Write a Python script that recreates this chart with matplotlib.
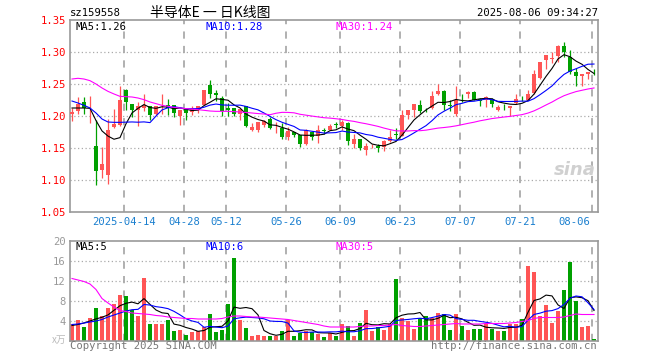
import matplotlib
matplotlib.use('Agg')
import matplotlib.pyplot as plt
from matplotlib.transforms import blended_transform_factory

# daily K data, 2025-03-31 .. 2025-08-06 (88 sessions)
opens = [1.2026, 1.2073, 1.2214, 1.2125, 1.1536, 1.1151, 1.1083, 1.1823, 1.1865, 1.2411,
         1.2188, 1.2099, 1.2125, 1.2161, 1.2036, 1.2214, 1.2177, 1.2167, 1.1995, 1.2109,
         1.2063, 1.2099, 1.2177, 1.2479, 1.2359, 1.2276, 1.2125, 1.2125, 1.2036, 1.2151,
         1.1776, 1.1786, 1.1865, 1.1958, 1.1808, 1.1813, 1.1667, 1.1745, 1.1708, 1.1568,
         1.1745, 1.1682, 1.1776, 1.1786, 1.1880, 1.1849, 1.1891, 1.1568, 1.1646, 1.1464,
         1.1526, 1.1536, 1.1516, 1.1615, 1.1724, 1.1693, 1.2021, 1.2099, 1.2177, 1.2099,
         1.2125, 1.2349, 1.2396, 1.2177, 1.2036, 1.2234, 1.2344, 1.2370, 1.2271, 1.2255,
         1.2271, 1.2099, 1.2156, 1.2125, 1.2203, 1.2286, 1.2255, 1.2359, 1.2594, 1.2870,
         1.2896, 1.2932, 1.3089, 1.2917, 1.2682, 1.2630, 1.2656, 1.2693]
highs = [1.2125, 1.2292, 1.2292, 1.2318, 1.1943, 1.1516, 1.1953, 1.2109, 1.2474, 1.2427,
         1.2188, 1.2214, 1.2344, 1.2161, 1.2151, 1.2349, 1.2266, 1.2167, 1.2089, 1.2109,
         1.2151, 1.2151, 1.2401, 1.2568, 1.2411, 1.2307, 1.2203, 1.2125, 1.2109, 1.2151,
         1.1891, 1.1901, 1.1943, 1.1984, 1.1901, 1.1891, 1.1828, 1.1745, 1.1708, 1.1797,
         1.1745, 1.1865, 1.1813, 1.1880, 1.1901, 1.1943, 1.1901, 1.1724, 1.1646, 1.1578,
         1.1557, 1.1557, 1.1630, 1.1776, 1.1813, 1.2089, 1.2099, 1.2193, 1.2245, 1.2125,
         1.2385, 1.2505, 1.2411, 1.2255, 1.2474, 1.2349, 1.2396, 1.2396, 1.2281, 1.2307,
         1.2281, 1.2177, 1.2193, 1.2151, 1.2349, 1.2307, 1.2411, 1.2724, 1.2844, 1.2958,
         1.3000, 1.3115, 1.3156, 1.3036, 1.2750, 1.2656, 1.2682, 1.2740]
lows = [1.1917, 1.2036, 1.2036, 1.1891, 1.0927, 1.1031, 1.0943, 1.1813, 1.1849, 1.2099,
        1.1984, 1.1849, 1.2073, 1.1943, 1.2021, 1.2036, 1.2021, 1.1980, 1.1854, 1.1943,
        1.2021, 1.2047, 1.2167, 1.2281, 1.2229, 1.1995, 1.1995, 1.1995, 1.1943, 1.1828,
        1.1766, 1.1745, 1.1829, 1.1797, 1.1734, 1.1641, 1.1620, 1.1672, 1.1516, 1.1552,
        1.1620, 1.1578, 1.1724, 1.1776, 1.1813, 1.1786, 1.1552, 1.1500, 1.1474, 1.1396,
        1.1495, 1.1432, 1.1448, 1.1594, 1.1646, 1.1682, 1.1953, 1.1990, 1.2047, 1.2063,
        1.2109, 1.2333, 1.2089, 1.2073, 1.2005, 1.2214, 1.2281, 1.2255, 1.2151, 1.2146,
        1.2146, 1.2083, 1.2099, 1.2005, 1.2193, 1.2240, 1.2245, 1.2344, 1.2578, 1.2734,
        1.2828, 1.2844, 1.2922, 1.2661, 1.2474, 1.2474, 1.2583, 1.2635]
closes = [1.2068, 1.2188, 1.2125, 1.2130, 1.1135, 1.1255, 1.1786, 1.1880, 1.2255, 1.2214,
          1.2099, 1.2151, 1.2177, 1.2021, 1.2151, 1.2220, 1.2125, 1.2047, 1.2089, 1.2047,
          1.2120, 1.2151, 1.2401, 1.2349, 1.2323, 1.2073, 1.2089, 1.2036, 1.2109, 1.1849,
          1.1828, 1.1901, 1.1917, 1.1813, 1.1813, 1.1667, 1.1760, 1.1708, 1.1568, 1.1786,
          1.1672, 1.1776, 1.1771, 1.1849, 1.1854, 1.1901, 1.1604, 1.1646, 1.1500, 1.1536,
          1.1530, 1.1500, 1.1604, 1.1667, 1.1708, 1.2021, 1.2099, 1.2193, 1.2073, 1.2090,
          1.2318, 1.2396, 1.2177, 1.2151, 1.2255, 1.2229, 1.2370, 1.2255, 1.2229, 1.2297,
          1.2193, 1.2135, 1.2151, 1.2151, 1.2271, 1.2281, 1.2349, 1.2656, 1.2844, 1.2958,
          1.2906, 1.3089, 1.2995, 1.2682, 1.2620, 1.2656, 1.2682, 1.2687]
# volume, unit 10k
volumes = [3.5, 4.3, 2.9, 4.7, 6.7, 5.1, 6.7, 7.5, 9.3, 9.1, 6.3, 5.0, 12.7, 3.5, 3.5,
           3.5, 4.3, 2.1, 2.3, 1.3, 1.9, 2.1, 2.9, 5.5, 1.9, 2.3, 7.5, 16.7, 4.3, 2.7,
           1.1, 1.3, 1.1, 1.1, 1.1, 2.1, 4.3, 1.1, 1.7, 2.1, 1.9, 1.5, 0.9, 1.6, 1.1,
           3.5, 3.1, 1.1, 3.7, 6.3, 2.1, 2.9, 2.3, 3.4, 12.5, 4.7, 4.1, 2.5, 4.7, 5.1,
           4.7, 5.7, 5.5, 2.3, 5.5, 3.1, 2.3, 2.5, 2.5, 3.4, 2.5, 2.1, 2.1, 3.5, 3.5,
           4.5, 15.1, 13.9, 5.1, 7.3, 3.7, 6.1, 10.3, 15.9, 8.1, 2.9, 3.1, 0.5]

ma5 = [1.2125, 1.2125, 1.2125, 1.2120, 1.1929, 1.1767, 1.1686, 1.1637, 1.1662, 1.1878,
       1.2047, 1.2120, 1.2179, 1.2132, 1.2120, 1.2144, 1.2139, 1.2113, 1.2126, 1.2106,
       1.2086, 1.2091, 1.2162, 1.2214, 1.2269, 1.2259, 1.2247, 1.2174, 1.2126, 1.2031,
       1.1982, 1.1945, 1.1921, 1.1862, 1.1854, 1.1822, 1.1794, 1.1752, 1.1703, 1.1698,
       1.1699, 1.1702, 1.1715, 1.1771, 1.1784, 1.1830, 1.1796, 1.1771, 1.1701, 1.1637,
       1.1563, 1.1542, 1.1534, 1.1567, 1.1602, 1.1700, 1.1820, 1.1938, 1.2019, 1.2095,
       1.2155, 1.2214, 1.2211, 1.2226, 1.2259, 1.2242, 1.2236, 1.2252, 1.2268, 1.2276,
       1.2269, 1.2222, 1.2201, 1.2185, 1.2180, 1.2198, 1.2241, 1.2342, 1.2480, 1.2618,
       1.2743, 1.2891, 1.2958, 1.2926, 1.2858, 1.2808, 1.2727, 1.2665]
ma10 = [1.2234, 1.2203, 1.2167, 1.2125, 1.2047, 1.1953, 1.1906, 1.1901, 1.1901, 1.1904,
        1.1907, 1.1903, 1.1908, 1.1897, 1.1999, 1.2095, 1.2129, 1.2146, 1.2129, 1.2113,
        1.2115, 1.2115, 1.2137, 1.2170, 1.2187, 1.2173, 1.2169, 1.2168, 1.2170, 1.2150,
        1.2121, 1.2096, 1.2047, 1.1994, 1.1943, 1.1902, 1.1869, 1.1837, 1.1782, 1.1776,
        1.1761, 1.1748, 1.1733, 1.1737, 1.1741, 1.1765, 1.1749, 1.1743, 1.1736, 1.1711,
        1.1697, 1.1669, 1.1652, 1.1634, 1.1620, 1.1632, 1.1681, 1.1736, 1.1793, 1.1849,
        1.1927, 1.2017, 1.2074, 1.2123, 1.2177, 1.2198, 1.2225, 1.2231, 1.2247, 1.2268,
        1.2255, 1.2229, 1.2227, 1.2227, 1.2228, 1.2233, 1.2231, 1.2271, 1.2333, 1.2399,
        1.2470, 1.2566, 1.2650, 1.2703, 1.2738, 1.2776, 1.2809, 1.2812]
ma30 = [1.2578, 1.2589, 1.2578, 1.2552, 1.2500, 1.2438, 1.2385, 1.2344, 1.2307, 1.2302,
        1.2297, 1.2281, 1.2255, 1.2219, 1.2193, 1.2167, 1.2151, 1.2135, 1.2125, 1.2115,
        1.2109, 1.2099, 1.2089, 1.2078, 1.2073, 1.2073, 1.2073, 1.2068, 1.2063, 1.2055,
        1.2047, 1.2038, 1.2031, 1.2020, 1.2043, 1.2057, 1.2056, 1.2050, 1.2027, 1.2013,
        1.1999, 1.1986, 1.1973, 1.1967, 1.1957, 1.1946, 1.1929, 1.1916, 1.1896, 1.1879,
        1.1859, 1.1838, 1.1811, 1.1788, 1.1768, 1.1766, 1.1766, 1.1772, 1.1770, 1.1779,
        1.1795, 1.1811, 1.1820, 1.1831, 1.1846, 1.1865, 1.1885, 1.1903, 1.1925, 1.1942,
        1.1960, 1.1972, 1.1984, 1.1994, 1.2008, 1.2021, 1.2046, 1.2080, 1.2124, 1.2172,
        1.2218, 1.2271, 1.2317, 1.2351, 1.2381, 1.2402, 1.2422, 1.2438]

vol_ma5 = [3.1, 3.3, 3.6, 4.0, 4.42, 4.74, 5.22, 6.14, 7.06, 7.54, 7.78, 7.44, 8.48, 7.32,
           6.2, 5.64, 5.5, 3.38, 3.14, 2.7, 2.38, 1.94, 2.1, 2.74, 2.86, 2.94, 4.02, 6.78,
           6.54, 6.7, 6.46, 5.22, 2.1, 1.46, 1.14, 1.34, 1.94, 1.94, 2.06, 2.26, 2.22, 1.66,
           1.62, 1.6, 1.4, 1.72, 2.04, 2.08, 2.5, 3.54, 3.26, 3.22, 3.46, 3.4, 4.64, 5.16,
           5.4, 5.44, 5.7, 4.22, 4.22, 4.54, 5.14, 4.66, 4.74, 4.42, 3.74, 3.14, 3.18, 2.76,
           2.64, 2.6, 2.52, 2.72, 2.74, 3.14, 5.74, 8.1, 8.42, 9.18, 9.02, 7.22, 6.5, 8.66,
           8.82, 8.66, 8.06, 6.1]
vol_ma10 = [3.3, 3.4, 3.6, 3.8, 4.0, 4.3, 4.8, 5.2, 5.6, 5.98, 6.26, 6.33, 7.31, 7.19,
            6.87, 6.71, 6.47, 5.93, 5.23, 4.45, 4.01, 3.72, 2.74, 2.94, 2.78, 2.66, 2.98,
            4.44, 4.64, 4.78, 4.7, 4.62, 4.44, 4.0, 3.92, 3.9, 3.58, 2.02, 1.76, 1.7, 1.78,
            1.8, 1.78, 1.83, 1.83, 1.97, 1.85, 1.85, 2.05, 2.47, 2.49, 2.63, 2.77, 2.95,
            4.09, 4.21, 4.31, 4.45, 4.55, 4.43, 4.69, 4.97, 5.29, 5.18, 4.48, 4.32, 4.14,
            4.14, 3.92, 3.75, 3.53, 3.17, 2.83, 2.95, 2.75, 2.89, 4.17, 5.31, 5.57, 5.96,
            6.08, 6.48, 7.3, 8.54, 9.0, 8.84, 7.64, 6.3]
vol_ma30 = [12.5, 12.2, 11.9, 11.4, 10.3, 8.5, 7.6, 6.8, 6.1, 5.9, 5.6, 5.5, 5.4, 5.3,
            5.1, 5.0, 4.8, 4.7, 4.6, 4.5, 4.5, 4.4, 4.4, 4.4, 4.4, 4.5, 4.8, 5.0, 5.0, 4.9,
            4.8, 4.8, 4.7, 4.6, 4.5, 4.4, 4.3, 4.1, 3.9, 3.7, 3.5, 3.3, 3.0, 2.8, 2.8, 2.8,
            2.8, 2.8, 2.9, 3.0, 3.0, 3.1, 3.1, 3.2, 3.3, 3.1, 3.0, 2.9, 2.9, 3.0, 3.1, 3.2,
            3.3, 3.4, 3.5, 3.4, 3.4, 3.4, 3.4, 3.5, 3.5, 3.5, 3.5, 3.6, 3.7, 3.9, 4.1, 4.5,
            4.7, 4.7, 4.7, 4.7, 4.8, 5.1, 5.4, 5.3, 5.3, 5.3]

# session index of each date label
date_idx = [9, 19, 26, 36, 45, 55, 65, 75, 87]
date_lbl = ['2025-04-14', '04-28', '05-12', '05-26', '06-09', '06-23', '07-07', '07-21', '08-06']
price_ticks = [1.05, 1.10, 1.15, 1.20, 1.25, 1.30, 1.35]
vol_ticks = [4, 8, 12, 16, 20]

RED = '#ff5555'
GREEN = '#00a000'
GRID = '#aaaaaa'
FRAME = '#999999'
MONO = 'DejaVu Sans Mono'

W, H = 660, 360
fig = plt.figure(figsize=(W / 100, H / 100), dpi=100)


def px_axes(x0, y0, x1, y1):
    return fig.add_axes([x0 / W, 1 - y1 / H, (x1 - x0) / W, (y1 - y0) / H])


ax = px_axes(70, 20, 598, 212)
axv = px_axes(70, 241, 598, 341)

n = len(closes)
xs = list(range(n))
cols = [RED if c >= o else GREEN for o, c in zip(opens, closes)]

for a in (ax, axv):
    a.set_xlim(-1 / 3, n - 1 / 3)
    a.set_xticks([])
    for s in a.spines.values():
        s.set_color(FRAME)
        s.set_linewidth(1.2)
    a.tick_params(axis='y', length=0, pad=3)
    for d in date_idx:
        a.axvline(d - 1 / 3, color=GRID, lw=1.3, dashes=(4, 4), zorder=0)

# candles
ax.vlines(xs, lows, highs, colors=cols, lw=0.9, zorder=2)
bodies = [max(abs(c - o), 0.0007) for o, c in zip(opens, closes)]
bottoms = [min(o, c) for o, c in zip(opens, closes)]
ax.bar(xs, bodies, bottom=bottoms, width=0.75, color=cols, lw=0, zorder=3)
ax.plot(xs, ma5, color='black', lw=0.8, zorder=4)
ax.plot(xs, ma10, color='#0000ff', lw=0.8, zorder=4)
ax.plot(xs, ma30, color='#ff00ff', lw=0.8, zorder=4)

ax.set_ylim(1.05, 1.35)
ax.set_yticks(price_ticks)
ax.set_yticklabels([f'{t:.2f}' for t in price_ticks], color='red', family=MONO, fontsize=7.6)
for t in price_ticks[1:-1]:
    ax.axhline(t, color=GRID, lw=0.9, dashes=(1, 2), zorder=0)

# volume
axv.bar(xs, volumes, width=0.8, color=cols, lw=0, zorder=2)
axv.plot(xs, vol_ma5, color='black', lw=0.8, zorder=3)
axv.plot(xs, vol_ma10, color='#0000ff', lw=0.8, zorder=3)
axv.plot(xs, vol_ma30, color='#ff00ff', lw=0.8, zorder=3)
axv.set_ylim(0, 20)
axv.set_yticks(vol_ticks)
axv.set_yticklabels([str(t) for t in vol_ticks], color='#999999', family=MONO, fontsize=7.6)
for t in vol_ticks[:-1]:
    axv.axhline(t, color=GRID, lw=0.9, dashes=(1, 2), zorder=0)

# date labels
tr = blended_transform_factory(ax.transData, fig.transFigure)
for d, lbl in zip(date_idx, date_lbl):
    if d == date_idx[-1]:
        ax.text(d - 0.55, 1 - 222 / H, lbl, transform=tr, ha='right', va='center',
                color='#1a7fcf', family=MONO, fontsize=7.6)
    else:
        ax.text(d - 1 / 3, 1 - 222 / H, lbl, transform=tr, ha='center', va='center',
                color='#1a7fcf', family=MONO, fontsize=7.6)


def fig_text(x, y, s, **kw):
    fig.text(x / W, 1 - y / H, s, **kw)


fig_text(70, 13, 'sz159558', family=MONO, fontsize=7.6, va='center')
fig_text(150, 13, '半导体E 一 日K线图', family=['Noto Sans CJK SC', 'DejaVu Sans'],
         fontsize=10, va='center')
fig_text(598, 13, '2025-08-06 09:34:27', family=MONO, fontsize=7.6, va='center', ha='right')

fig_text(75, 27, 'MA5:1.26', family=MONO, fontsize=7.6, va='center')
fig_text(205, 27, 'MA10:1.28', family=MONO, fontsize=7.6, va='center', color='#0000ff')
fig_text(336, 27, 'MA30:1.24', family=MONO, fontsize=7.6, va='center', color='#ff00ff')
fig_text(75, 247, 'MA5:5', family=MONO, fontsize=7.6, va='center')
fig_text(205, 247, 'MA10:6', family=MONO, fontsize=7.6, va='center', color='#0000ff')
fig_text(335, 247, 'MA30:5', family=MONO, fontsize=7.6, va='center', color='#ff00ff')

fig_text(70, 346, 'Copyright 2025 SINA.COM', family=MONO, fontsize=7.6, va='center',
         color='#777777')
fig_text(597, 346, 'http://finance.sina.com.cn', family=MONO, fontsize=7.6, va='center',
         ha='right', color='#777777')
fig_text(66, 340, 'x万', family=['Noto Sans CJK SC', 'DejaVu Sans'], fontsize=7,
         va='center', ha='right', color='#bbbbbb')
fig_text(596, 170, 'sina', fontsize=13, fontweight='bold', style='italic', va='center',
         ha='right', color='#d0d0d0')

fig.savefig('out.png', dpi=100)
